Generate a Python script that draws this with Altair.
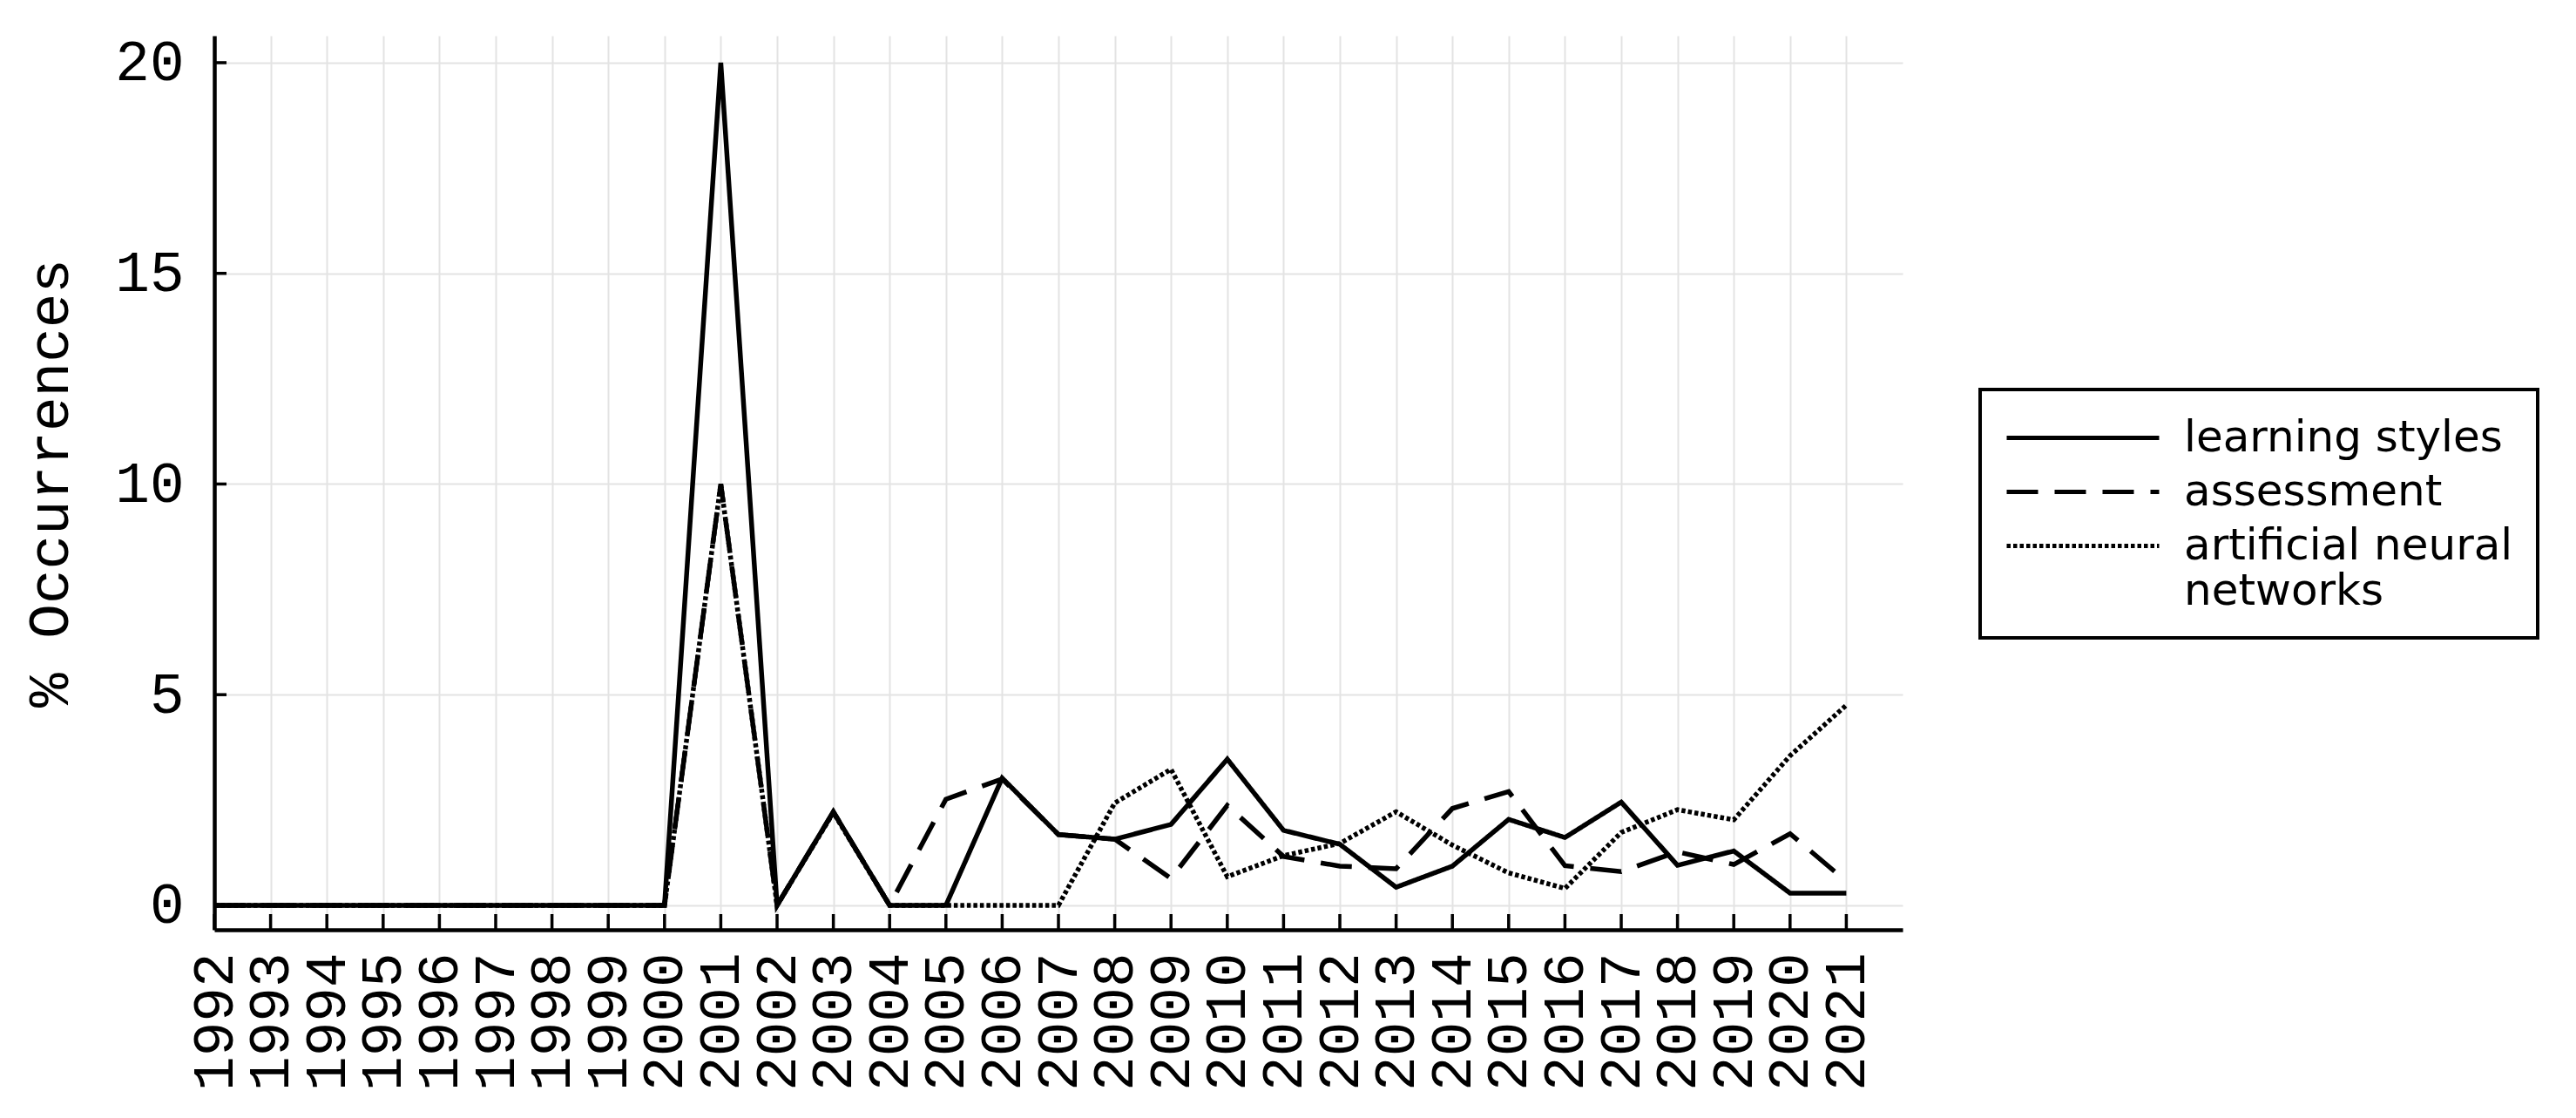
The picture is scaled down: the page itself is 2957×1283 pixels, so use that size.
import altair as alt
import pandas as pd

years = list(range(1992, 2022))
series_names = ["learning styles", "assessment", "artificial neural networks"]

learning_styles = [0, 0, 0, 0, 0, 0, 0, 0, 0,
                   20.0, 0, 2.22, 0, 0, 3.02, 1.68, 1.57, 1.92, 3.47, 1.78,
                   1.45, 0.43, 0.93, 2.04, 1.61, 2.45, 0.95, 1.29, 0.29, 0.29]
assessment = [0, 0, 0, 0, 0, 0, 0, 0, 0,
              10.0, 0, 2.22, 0, 2.52, 3.0, 1.68, 1.57, 0.64, 2.37, 1.16,
              0.93, 0.87, 2.3, 2.7, 0.94, 0.8, 1.27, 0.97, 1.7, 0.57]
ann = [0, 0, 0, 0, 0, 0, 0, 0, 0,
       10.0, 0, 2.2, 0, 0, 0, 0, 2.43, 3.23, 0.68, 1.18,
       1.47, 2.22, 1.43, 0.77, 0.4, 1.73, 2.27, 2.03, 3.55, 4.75]

y_ticks = [0, 5, 10, 15, 20]
dash_styles = [[1, 0], [36, 19], [4.5, 3]]

rows = []
for name, vals in zip(series_names, [learning_styles, assessment, ann]):
    for yr, v in zip(years, vals):
        rows.append({"year": yr, "value": v, "series": name})
df = pd.DataFrame(rows)

W, H = 1938, 1026
xscale = alt.Scale(domain=[1992, 2022], nice=False, zero=False)
yscale = alt.Scale(domain=[-0.58, 20.64], nice=False, zero=False)

mono = "Liberation Mono"

x_axis = alt.Axis(values=years, format="d", labelAngle=270, title=None,
                  grid=True, gridColor="#e3e3e3", gridWidth=2,
                  ticks=False, domainColor="black", domainWidth=4.5,
                  labelFont=mono, labelFontSize=66, labelColor="black",
                  labelPadding=26, labelOverlap=False)
y_axis = alt.Axis(values=y_ticks, format="d", title="% Occurrences",
                  grid=True, gridColor="#e3e3e3", gridWidth=2,
                  ticks=False, domainColor="black", domainWidth=4.5,
                  labelFont=mono, labelFontSize=66, labelColor="black",
                  labelPadding=35,
                  titleFont=mono, titleFontSize=66, titleFontWeight="normal",
                  titleColor="black", titlePadding=40)

lines = alt.Chart(df).mark_line(color="black", strokeWidth=5.5, strokeCap="butt", strokeJoin="miter").encode(
    x=alt.X("year:Q", scale=xscale, axis=x_axis),
    y=alt.Y("value:Q", scale=yscale, axis=y_axis),
    strokeDash=alt.StrokeDash("series:N",
                              scale=alt.Scale(domain=series_names, range=dash_styles),
                              sort=series_names,
                              legend=alt.Legend(
                                  title=None, orient="none", legendX=2027, legendY=406,
                                  strokeColor="black", fillColor="white", padding=28,
                                  symbolType="M-1,0H6", symbolSize=2500,
                                  symbolStrokeWidth=5, symbolStrokeColor="black",
                                  labelFont="DejaVu Sans", labelFontSize=50,
                                  labelColor="black", labelOffset=151, rowPadding=9,
                                  labelLimit=1000, gridAlign="none",
                                  labelExpr="datum.label == 'artificial neural networks' ? ['artificial neural', 'networks'] : datum.label")),
)

xt = pd.DataFrame({"year": years})
yt = pd.DataFrame({"value": y_ticks})

xticks = alt.Chart(xt).mark_rule(color="black", strokeWidth=3.5).encode(
    x=alt.X("year:Q", scale=xscale, axis=x_axis),
    y=alt.value(H), y2=alt.value(H - 18))
yticks = alt.Chart(yt).mark_rule(color="black", strokeWidth=3.5).encode(
    y=alt.Y("value:Q", scale=yscale, axis=y_axis),
    x=alt.value(0), x2=alt.value(14))

chart = alt.layer(lines, xticks, yticks).properties(
    width=W, height=H,
    padding={"left": 238, "top": 33, "right": 760, "bottom": 200},
    autosize=alt.AutoSizeParams(type="none"),
).configure_view(strokeWidth=0).configure_legend(strokeWidth=4)

chart.save("out.html", embed_options={"renderer": "svg", "actions": False})
